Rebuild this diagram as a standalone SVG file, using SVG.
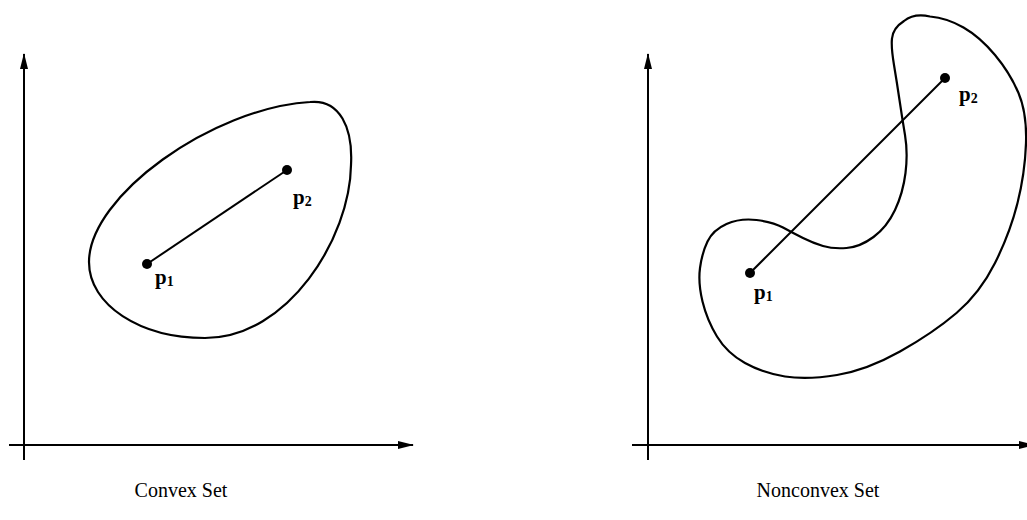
<svg xmlns="http://www.w3.org/2000/svg" width="1027" height="520" viewBox="0 0 1027 520">
<style>
.ax{stroke:#000;stroke-width:2;fill:none}
.sh{stroke:#000;stroke-width:2.2;fill:none;stroke-linejoin:round}
.seg{stroke:#000;stroke-width:2;fill:none}
.pt{fill:#000}
.lbl{font-family:"Liberation Serif","DejaVu Serif",serif;font-weight:bold;font-size:21px;fill:#000}
.sub{font-size:14px}
.cap{font-family:"Liberation Serif","DejaVu Serif",serif;font-size:20px;fill:#000}
</style>
<defs>
<marker id="arr" markerUnits="userSpaceOnUse" viewBox="0 0 16 10" markerWidth="16" markerHeight="10" refX="15" refY="5" orient="auto">
<path d="M0,1 L16,5 L0,9 Z" fill="#000"/>
</marker>
</defs>
<g id="connectors">
<line class="ax" x1="24" y1="460" x2="24" y2="54" marker-end="url(#arr)"/>
<line class="ax" x1="9" y1="445" x2="413" y2="445" marker-end="url(#arr)"/>
<line class="ax" x1="648" y1="460" x2="648" y2="54" marker-end="url(#arr)"/>
<line class="ax" x1="632" y1="445" x2="1034" y2="445" marker-end="url(#arr)"/>
<line class="seg" x1="147" y1="264" x2="287" y2="170"/>
<line class="seg" x1="750" y1="273" x2="945" y2="78"/>
</g>
<g id="convex-set">
<path class="sh" d="M310,102 C340,99 353,128 351,165 C350,238 288,338 205,338 C140,338 89,305 89,262 C89,196 212,108 310,102 Z"/>
</g>
<g id="convex-p1">
<circle class="pt" cx="147" cy="264" r="5"/>
<text class="lbl" x="155" y="284">p<tspan class="sub" dy="2">1</tspan></text>
</g>
<g id="convex-p2">
<circle class="pt" cx="287" cy="170" r="5"/>
<text class="lbl" x="293" y="204">p<tspan class="sub" dy="2">2</tspan></text>
</g>
<g id="nonconvex-set">
<path class="sh" d="M930,16.5 Q947,18 963.5,27.5 Q980,37 995,55 Q1010,73 1018.5,93 Q1027,113 1026,143 Q1025,173 1017.5,203 Q1010,233 995,263 Q980,293 956.5,313 Q933,333 900,351.5 Q867,370 837,375 Q807,380 785,376.5 Q763,373 745,363 Q727,353 717,336.5 Q707,320 702.5,301.5 Q698,283 700,268 Q702,253 707.5,241.5 Q713,230 726.5,224 Q740,218 756.5,220 Q773,222 783,227.5 Q793,233 803,238 Q813,243 823,246 Q833,249 846.5,248 Q860,247 873.5,237 Q887,227 895,210 Q903,193 905.5,173 Q908,153 905,135 Q902,117 899.5,100 Q897,83 894,65 Q891,47 892,38.5 Q893,28 904,21 Q914,13 930,16.5 Z"/>
</g>
<g id="nonconvex-p1">
<circle class="pt" cx="750" cy="273" r="5"/>
<text class="lbl" x="754" y="299">p<tspan class="sub" dy="2">1</tspan></text>
</g>
<g id="nonconvex-p2">
<circle class="pt" cx="945" cy="78" r="5"/>
<text class="lbl" x="959" y="101">p<tspan class="sub" dy="2">2</tspan></text>
</g>
<g id="captions">
<text class="cap" x="181" y="497" text-anchor="middle">Convex Set</text>
<text class="cap" x="818" y="497" text-anchor="middle">Nonconvex Set</text>
</g>
</svg>
